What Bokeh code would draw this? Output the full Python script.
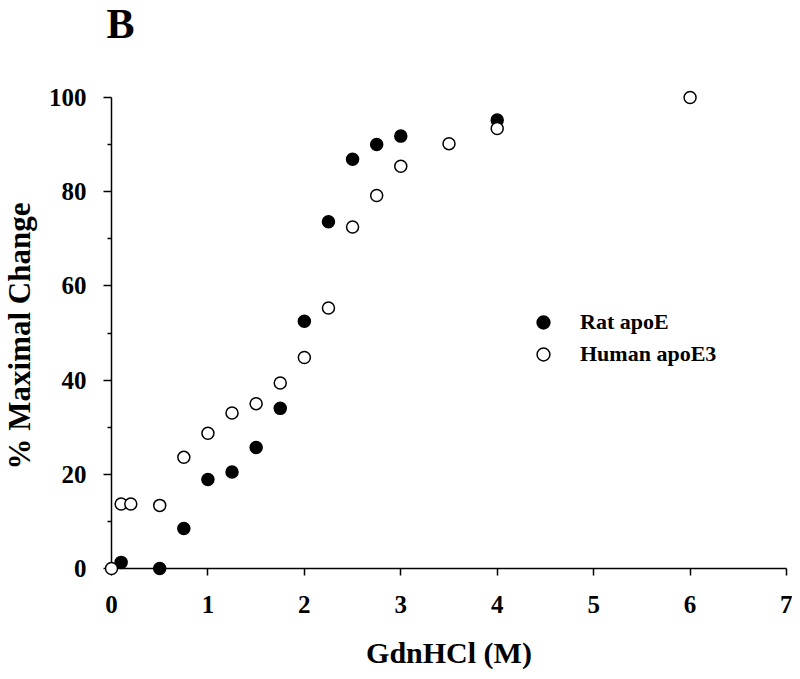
import math
from bokeh.plotting import figure
from bokeh.models import FixedTicker, Range1d
from bokeh.core.properties import value
from bokeh.embed import file_html
from bokeh.resources import INLINE

# Data
rat_x = [0.1, 0.5, 0.75, 1.0, 1.25, 1.5, 1.75, 2.0, 2.25, 2.5, 2.75, 3.0, 4.0]
rat_y = [1.3, 0.0, 8.5, 18.9, 20.5, 25.7, 34.0, 52.5, 73.6, 86.9, 90.0, 91.8, 95.2]
human_x = [0.0, 0.1, 0.2, 0.5, 0.75, 1.0, 1.25, 1.5, 1.75, 2.0, 2.25, 2.5, 2.75, 3.0, 3.5, 4.0, 6.0]
human_y = [0.0, 13.7, 13.7, 13.4, 23.6, 28.7, 33.0, 35.0, 39.4, 44.8, 55.3, 72.5, 79.2, 85.4, 90.2, 93.4, 100.0]
x_ticks = [0, 1, 2, 3, 4, 5, 6, 7]
y_ticks = [0, 20, 40, 60, 80, 100]
y_minor = [10, 30, 50, 70, 90]

FONT = "Liberation Serif"

p = figure(width=792, height=671, output_backend="svg", toolbar_location=None,
           x_range=Range1d(0, 7), y_range=Range1d(0, 100),
           min_border_left=111, min_border_right=6, min_border_top=97, min_border_bottom=100)
p.outline_line_color = None
p.xgrid.visible = False
p.ygrid.visible = False
p.background_fill_color = "white"
p.border_fill_color = "white"

r1 = p.scatter(rat_x, rat_y, size=12, marker="circle", fill_color="black",
               line_color="black", line_width=1.5, legend_label="Rat apoE")
r2 = p.scatter(human_x, human_y, size=12, marker="circle", fill_color="white",
               line_color="black", line_width=1.5, legend_label="Human apoE3")
r1.level = "overlay"
r2.level = "overlay"

for ax in (p.xaxis[0], p.yaxis[0]):
    ax.axis_line_color = "black"
    ax.axis_line_width = 1.5
    ax.major_tick_line_color = "black"
    ax.major_tick_line_width = 1.5
    ax.minor_tick_line_color = "black"
    ax.minor_tick_line_width = 1.5
    ax.major_tick_in = 0
    ax.minor_tick_in = 0
    ax.major_label_text_font = FONT
    ax.major_label_text_font_style = "bold"
    ax.major_label_text_font_size = "25px"
    ax.major_label_text_color = "black"
    ax.axis_label_text_font = FONT
    ax.axis_label_text_font_style = "bold"
    ax.axis_label_text_font_size = "30px"
    ax.axis_label_text_color = "black"

p.xaxis.ticker = FixedTicker(ticks=x_ticks, minor_ticks=[])
p.yaxis.ticker = FixedTicker(ticks=y_ticks, minor_ticks=y_minor)
p.xaxis.major_tick_out = 7
p.yaxis.major_tick_out = 8
p.yaxis.minor_tick_out = 4
p.xaxis.major_label_standoff = 20
p.yaxis.major_label_standoff = 17
p.xaxis.axis_label = "GdnHCl (M)"
p.xaxis.axis_label_standoff = 20

# y-axis title, drawn as text so its place can be matched exactly
yt = p.text(x=[0], y=[50], text=["% Maximal Change"], angle=math.pi / 2,
            x_offset=-92, y_offset=3, text_font=value(FONT), text_font_style="bold",
            text_font_size="31px", text_color="black",
            text_baseline="alphabetic", text_align="center")
yt.level = "overlay"

# panel letter
bt = p.text(x=[0], y=[100], text=["B"], x_offset=-5, y_offset=-74,
            text_font=value(FONT), text_font_style="bold", text_font_size="42px",
            text_color="black", text_baseline="alphabetic", text_align="left")
bt.level = "overlay"

leg = p.legend[0]
leg.location = (416, 198)
leg.background_fill_alpha = 0
leg.border_line_color = None
leg.padding = 0
leg.margin = 0
leg.spacing = -5
leg.glyph_width = 32
leg.glyph_height = 32
leg.label_standoff = 21
leg.label_text_font = FONT
leg.label_text_font_style = "bold"
leg.label_text_font_size = "22px"
leg.label_text_color = "black"

open("out.html", "w").write(file_html(p, INLINE))
